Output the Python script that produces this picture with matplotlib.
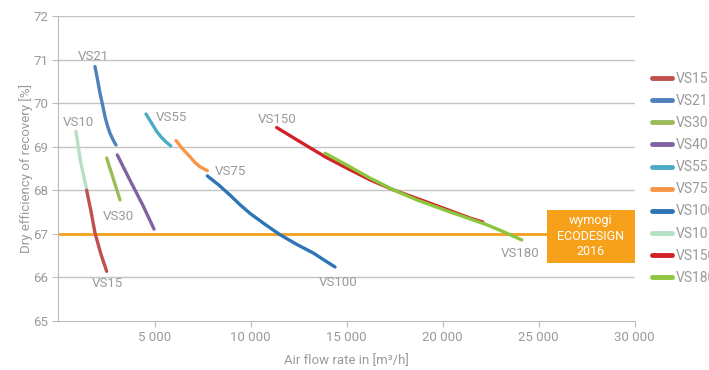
import matplotlib.pyplot as plt
from matplotlib.patches import Rectangle
from matplotlib.ticker import FixedLocator

# data (air flow m3/h, efficiency %)
vs15_x = [1467, 1700, 1901, 2200, 2509]
vs15_y = [68.0, 67.5, 67.02, 66.55, 66.14]
vs21_x = [1901, 2050, 2161, 2300, 2422, 2550, 2682, 2850, 2995]
vs21_y = [70.84, 70.50, 70.23, 69.95, 69.69, 69.48, 69.31, 69.15, 69.04]
vs30_x = [2509, 3203]
vs30_y = [68.74, 67.78]
vs40_x = [3064, 3700, 4400, 4974]
vs40_y = [68.81, 68.25, 67.65, 67.11]
vs55_x = [4557, 4850, 5113, 5350, 5600, 5842]
vs55_y = [69.75, 69.54, 69.35, 69.22, 69.11, 69.02]
vs75_x = [6120, 6500, 6849, 7100, 7370, 7751]
vs75_y = [69.14, 68.93, 68.77, 68.64, 68.54, 68.45]
vs100_x = [7751, 8350, 8932, 9450, 9974, 10750, 11536, 12400, 13271, 13900, 14401]
vs100_y = [68.33, 68.12, 67.89, 67.67, 67.47, 67.22, 66.98, 66.76, 66.56, 66.38, 66.24]
vs10_x = [911, 1150, 1467]
vs10_y = [69.35, 68.65, 68.02]
vs150_x = [11363, 12405, 13880, 15009, 16224, 17439, 19366, 21450, 22100]
vs150_y = [69.44, 69.16, 68.77, 68.51, 68.24, 68.01, 67.70, 67.36, 67.27]
vs180_x = [13880, 15009, 16224, 17439, 18656, 20218, 22302, 23170, 24127]
vs180_y = [68.85, 68.58, 68.28, 68.01, 67.78, 67.53, 67.21, 67.05, 66.86]

names = ["VS15", "VS21", "VS30", "VS40", "VS55", "VS75", "VS100", "VS10", "VS150", "VS180"]
xs = [vs15_x, vs21_x, vs30_x, vs40_x, vs55_x, vs75_x, vs100_x, vs10_x, vs150_x, vs180_x]
ys = [vs15_y, vs21_y, vs30_y, vs40_y, vs55_y, vs75_y, vs100_y, vs10_y, vs150_y, vs180_y]
colors = ["#c0504d", "#4f81bd", "#9bbb59", "#8064a2", "#4bacc6",
          "#f79646", "#2e75b6", "#b4e0c4", "#d12229", "#8cc63f"]

# curve labels
label_names = ["VS21", "VS10", "VS55", "VS30", "VS15", "VS75", "VS150", "VS100", "VS180"]
label_x = [1797, 1016, 5911, 3099, 2526, 8932, 11365, 14557, 24036]
label_y = [71.08, 69.55, 69.68, 67.39, 65.85, 68.42, 69.63, 65.88, 66.56]

limit = 67
xticks = [5000, 10000, 15000, 20000, 25000, 30000]
xtick_labels = ["5 000", "10 000", "15 000", "20 000", "25 000", "30 000"]
yticks = [65, 66, 67, 68, 69, 70, 71, 72]

plt.rcParams['font.family'] = ['Roboto', 'DejaVu Sans']
grey = "#9a9a9a"
orange = "#f7a11a"

fig = plt.figure(figsize=(7.09, 3.70), dpi=100)
ax = fig.add_axes([0.0825, 0.1324, 0.8125, 0.8244])

for yv in yticks[1:]:
    ax.axhline(yv, color="#c4c4c4", lw=1, zorder=0)
ax.axhline(limit, color=orange, lw=2, zorder=1)

order = [7, 0, 1, 2, 3, 4, 5, 6, 8, 9]
for i in order:
    ax.plot(xs[i], ys[i], color=colors[i], lw=2.4, solid_capstyle="round",
            solid_joinstyle="round", label=names[i], zorder=3)

for t, lx, ly in zip(label_names, label_x, label_y):
    ax.text(lx, ly, t, color=grey, fontsize=9.5, ha="center", va="center")

# ECODESIGN box
ax.add_patch(Rectangle((25450, 66.33), 4550, 1.22, fc=orange, ec="none", zorder=4))
ax.text(27725, limit - 0.06, "wymogi\nECODESIGN\n2016", color="white", fontsize=9,
        ha="center", va="center", linespacing=1.25, zorder=5)

ax.set_xlim(0, 30000)
ax.set_ylim(65, 72)
ax.xaxis.set_major_locator(FixedLocator(xticks))
ax.set_xticklabels(xtick_labels)
ax.set_yticks(yticks)
for s in ["top", "right"]:
    ax.spines[s].set_visible(False)
for s in ["left", "bottom"]:
    ax.spines[s].set_color("#bbbbbb")
ax.tick_params(colors="#bbbbbb", labelcolor=grey, labelsize=9.5, length=4)
ax.set_xlabel("Air flow rate in [m³/h]", color=grey, fontsize=9.5, labelpad=7)
ax.set_ylabel("Dry efficiency of recovery [%]", color=grey, fontsize=9.5, labelpad=0)

handles, labs = ax.get_legend_handles_labels()
hmap = dict(zip(labs, handles))
leg = fig.legend([hmap[n] for n in names], names, loc="upper left",
                 bbox_to_anchor=(0.919, 0.805), frameon=False, fontsize=10,
                 handlelength=1.45, handletextpad=0.3, labelspacing=0.58,
                 borderaxespad=0, borderpad=0)
for t in leg.get_texts():
    t.set_color(grey)
for h in leg.legend_handles:
    h.set_linewidth(3.5)

fig.savefig("out.png", dpi=100)
